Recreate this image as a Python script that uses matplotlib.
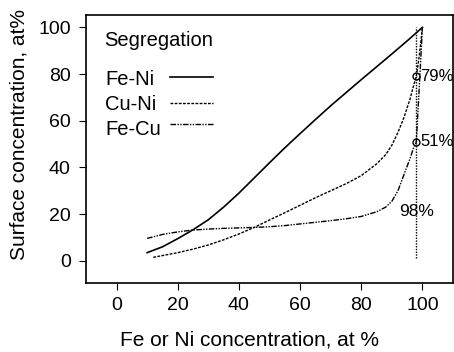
import matplotlib
matplotlib.use('Agg')
import matplotlib.pyplot as plt
import numpy as np

plt.rcParams['font.family'] = ['Liberation Sans', 'DejaVu Sans']

# Fe-Ni segregation (solid)
feni_x = [10, 15, 20, 25, 30, 35, 40, 45, 50, 55, 60, 65, 70, 75, 80, 85, 90, 95, 100]
feni_y = [3.5, 6.0, 9.5, 13.3, 17.6, 23.0, 29.0, 35.5, 42.0, 48.4, 54.5, 60.5, 66.4, 72.0, 77.6, 83.1, 88.6, 94.2, 100]

# Cu-Ni segregation (dotted)
cuni_x = [12, 20, 25, 30, 35, 40, 45, 50, 55, 60, 65, 70, 75, 80, 85, 88, 90, 92, 94, 96, 97, 98, 99, 100]
cuni_y = [1.5, 3.5, 5.0, 6.8, 9.0, 11.5, 14.3, 17.5, 20.6, 23.8, 27.0, 30.0, 33.0, 36.5, 41.5, 45.5, 49.5, 55.0, 61.5, 69.5, 74.5, 79.0, 88.0, 100]

# Fe-Cu segregation (dash-dot-dot)
fecu_x = [10, 15, 20, 25, 30, 35, 40, 45, 50, 55, 60, 65, 70, 75, 80, 85, 88, 90, 92, 94, 96, 97, 98, 99, 100]
fecu_y = [9.6, 11.3, 12.4, 13.2, 13.6, 13.9, 14.1, 14.3, 14.6, 15.1, 15.8, 16.5, 17.2, 18.0, 19.0, 21.0, 23.0, 25.5, 30.0, 37.0, 44.0, 48.0, 51.0, 75.0, 100]

# marked points at 98 %
mark_x = 98
mark_y = [79, 51]
mark_labels = ['79%', '51%']

names = ['Fe-Ni', 'Cu-Ni', 'Fe-Cu']
styles = ['-', (0, (2, 1)), (0, (4, 1, 1, 1, 1, 1))]
widths = [1.2, 1.0, 1.0]

W, H = 454, 352
fig = plt.figure(figsize=(W / 100, H / 100), dpi=100)
ax = fig.add_axes([86 / W, 1 - 283 / H, 367 / W, 268 / H])

def axpt(px, py):
    # pixel position -> axes fraction
    return (px - 86) / 367, (283 - py) / 268

for xs, ys, ls, lw in zip([feni_x, cuni_x, fecu_x], [feni_y, cuni_y, fecu_y], styles, widths):
    ax.plot(xs, ys, color='black', lw=lw, ls=ls)

ax.plot([mark_x, mark_x], [1, 100], color='black', lw=1.0, ls=(0, (1, 1)))
ax.plot([mark_x] * len(mark_y), mark_y, 'o', ms=5, mfc='none', mec='black', mew=1.0)
for yy, lab in zip(mark_y, mark_labels):
    ax.text(mark_x + 1.3, yy, lab, fontsize=12, va='center', ha='left')
ax.text(mark_x, 19, '98%', fontsize=12.5, va='baseline', ha='center')

# legend drawn by hand: text left aligned, sample line to its right
ax.text(*axpt(104, 46), 'Segregation', transform=ax.transAxes, fontsize=14.5, va='baseline')
for i, (nm, ls, lw) in enumerate(zip(names, styles, widths)):
    base = [85, 110.5, 135][i]
    liney = [77.3, 103, 124][i]
    ax.text(*axpt(105, base), nm, transform=ax.transAxes, fontsize=14.5, va='baseline')
    x0, y0 = axpt(170, liney)
    x1, _ = axpt(213, liney)
    ax.plot([x0, x1], [y0, y0], transform=ax.transAxes, color='black', lw=lw, ls=ls)

ax.set_xlim(-10, 110)
ax.set_ylim(-9.5, 105.3)
ax.set_xticks([0, 20, 40, 60, 80, 100])
ax.set_yticks([0, 20, 40, 60, 80, 100])
ax.tick_params(axis='x', labelsize=14, length=5, pad=5)
ax.tick_params(axis='y', labelsize=14, length=5, pad=6)
for sp in ax.spines.values():
    sp.set_linewidth(1.2)

fig.text(249 / W, 1 - 340 / H, 'Fe or Ni concentration, at %', fontsize=15, ha='center', va='center')
fig.text(19 / W, 1 - 135 / H, 'Surface concentration, at%', fontsize=15, ha='center', va='center', rotation=90)

fig.savefig('out.png', dpi=100)
